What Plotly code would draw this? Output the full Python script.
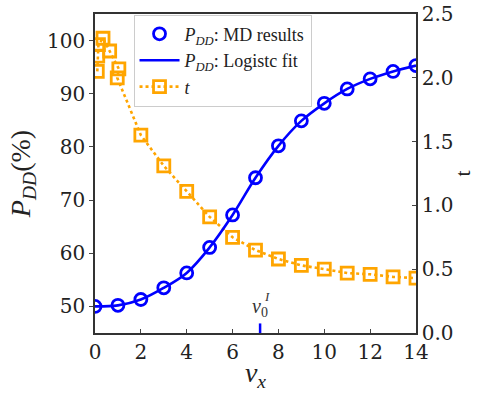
import plotly.graph_objects as go

# ---- data ----
vx_md = [0, 1, 2, 3, 4, 5, 6, 7, 8, 9, 10, 11, 12, 13, 14]
pdd_md = [50.0, 50.2, 51.3, 53.5, 56.3, 61.1, 67.2, 74.2, 80.2, 84.9, 88.2, 90.9, 92.8, 94.2, 95.3]

vx_t = [0.1, 0.12, 0.15, 0.35, 0.64, 1.04, 0.97, 2, 3, 4, 5, 6, 7, 8, 9, 10, 11, 12, 13, 14]
t_vals = [2.05, 2.17, 2.26, 2.31, 2.21, 2.07, 2.00, 1.55, 1.31, 1.11, 0.91, 0.75, 0.65,
          0.58, 0.53, 0.50, 0.47, 0.46, 0.44, 0.43]

v0_I = 7.2

x_ticks = [0, 2, 4, 6, 8, 10, 12, 14]
pdd_ticks = [50, 60, 70, 80, 90, 100]
t_ticks = [0.0, 0.5, 1.0, 1.5, 2.0, 2.5]

FONT = "Liberation Serif"
TICKFONT = "DejaVu Serif"
BLUE = "#0000FF"
ORANGE = "#FFA500"
TXT = "#222222"

fig = go.Figure()

fig.add_trace(go.Scatter(
    x=vx_md, y=pdd_md, yaxis="y2", mode="markers",
    name="<i>P</i><sub><i>DD</i></sub>: MD results",
    marker=dict(symbol="circle-open", size=12, color=BLUE, line=dict(width=2.8, color=BLUE)),
))
fig.add_trace(go.Scatter(
    x=vx_md, y=pdd_md, yaxis="y2", mode="lines",
    name="<i>P</i><sub><i>DD</i></sub>: Logistc fit",
    line=dict(color=BLUE, width=2.6, shape="spline"),
))
fig.add_trace(go.Scatter(
    x=vx_t, y=t_vals, yaxis="y", mode="lines+markers",
    name="<i>t</i>",
    line=dict(color=ORANGE, width=2.6, dash="dot"),
    marker=dict(symbol="square-open", size=12, color=ORANGE, line=dict(width=2.8, color=ORANGE)),
))

# v0^I marker
fig.add_shape(type="line", xref="x", yref="paper", x0=v0_I, x1=v0_I, y0=0, y1=0.03,
              line=dict(color=BLUE, width=2.5))
fig.add_annotation(x=v0_I, y=0.035, xref="x", yref="paper", yanchor="bottom",
                   text="<i>v</i><sub>0</sub>", showarrow=False,
                   font=dict(family=FONT, size=20, color="#333333"))
fig.add_annotation(x=v0_I, y=0.085, xref="x", yref="paper", yanchor="bottom", xshift=7,
                   text="<i>I</i>", showarrow=False,
                   font=dict(family=FONT, size=13, color="#333333"))

fig.update_layout(
    width=490, height=396,
    margin=dict(l=95, r=74, t=14, b=63, autoexpand=False),
    plot_bgcolor="white", paper_bgcolor="white",
    font=dict(family=FONT, color=TXT, size=22),
    showlegend=True,
    legend=dict(x=0.12, y=0.998, xanchor="left", yanchor="top",
                bgcolor="rgba(255,255,255,0.85)", bordercolor="#CCCCCC", borderwidth=1,
                font=dict(family=FONT, size=18, color=TXT), tracegroupgap=0,
                itemwidth=40),
    xaxis=dict(range=[0, 14], tickvals=x_ticks, ticks="inside", ticklen=4,
               showline=True, linecolor="#333333", linewidth=1.5, mirror=True,
               showgrid=False, zeroline=False, automargin=False,
               tickfont=dict(family=TICKFONT, size=20, color=TXT),
               title=dict(text="<i>v</i><sub><i>x</i></sub>", font=dict(family=FONT, size=28, color=TXT), standoff=0)),
    yaxis=dict(range=[0, 2.5], tickvals=t_ticks, ticktext=[f"{v:.1f}" for v in t_ticks],
               side="right", ticks="inside", ticklen=4,
               showline=True, linecolor="#333333", linewidth=1.5,
               showgrid=False, zeroline=False, automargin=False,
               tickfont=dict(family=TICKFONT, size=20, color=TXT),
               title=dict(text="t", font=dict(family=FONT, size=22, color=TXT), standoff=2)),
    yaxis2=dict(range=[45, 105], tickvals=pdd_ticks, overlaying="y", side="left",
                ticks="outside", ticklen=4,
                showline=True, linecolor="#333333", linewidth=1.5,
                showgrid=False, zeroline=False, automargin=False,
                tickfont=dict(family=TICKFONT, size=20, color=TXT),
                title=dict(text="<i>P</i><sub><i>DD</i></sub>(%)", font=dict(family=FONT, size=28, color=TXT), standoff=8)),
)

fig.write_html("out.html")
